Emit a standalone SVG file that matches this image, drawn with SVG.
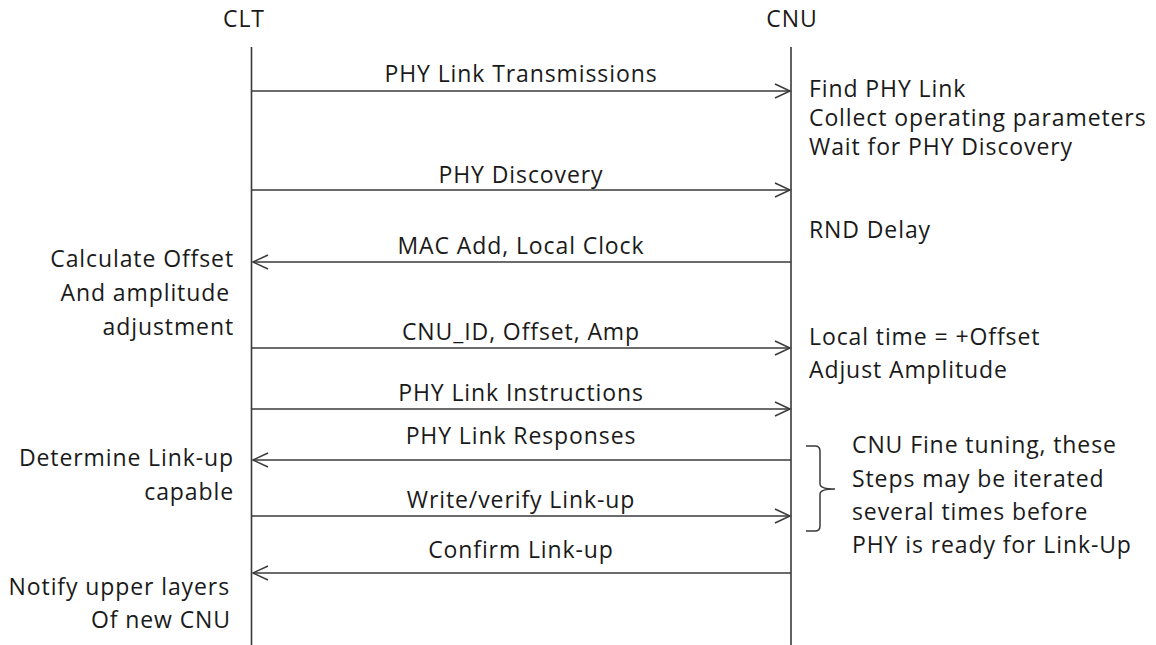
<svg xmlns="http://www.w3.org/2000/svg" width="1156" height="645" viewBox="0 0 1156 645">
  <style>
    text { font-family: "Open Sans", "Noto Sans", "Liberation Sans", sans-serif; font-size: 23px; fill: #1a1a1a; letter-spacing: 0.9px; }
    .mid { text-anchor: middle; }
    .end { text-anchor: end; }
    .life { stroke: #3a3a3a; stroke-width: 1.6; fill: none; }
    .msg { stroke: #3a3a3a; stroke-width: 1.5; fill: none; marker-end: url(#arr); }
    .brace { stroke: #3a3a3a; stroke-width: 1.5; fill: none; }
  </style>
  <defs>
    <marker id="arr" markerUnits="userSpaceOnUse" viewBox="-17 -9 19 18" markerWidth="19" markerHeight="18" refX="0" refY="0" orient="auto">
      <path d="M-15,-7 L0,0 L-15,7" fill="none" stroke="#3a3a3a" stroke-width="1.5"/>
    </marker>
  </defs>
  <rect width="1156" height="645" fill="#ffffff"/>

  <g id="CLT">
    <text class="mid" x="244" y="27">CLT</text>
    <line class="life" x1="251.5" y1="47" x2="251.5" y2="645"/>
  </g>
  <g id="CNU">
    <text class="mid" x="792" y="27">CNU</text>
    <line class="life" x1="791" y1="47" x2="791" y2="645"/>
  </g>

  <g id="connectors">
    <line class="msg" x1="252" y1="91" x2="790" y2="91"/>
    <line class="msg" x1="252" y1="190" x2="790" y2="190"/>
    <line class="msg" x1="791" y1="262" x2="253" y2="262"/>
    <line class="msg" x1="252" y1="348" x2="790" y2="348"/>
    <line class="msg" x1="252" y1="409" x2="790" y2="409"/>
    <line class="msg" x1="791" y1="460" x2="253" y2="460"/>
    <line class="msg" x1="252" y1="516" x2="790" y2="516"/>
    <line class="msg" x1="791" y1="573" x2="253" y2="573"/>
  </g>

  <g id="message-labels">
    <text class="mid" x="521" y="82">PHY Link Transmissions</text>
    <text class="mid" x="521" y="183">PHY Discovery</text>
    <text class="mid" x="521" y="254">MAC Add, Local Clock</text>
    <text class="mid" x="521" y="340">CNU_ID, Offset, Amp</text>
    <text class="mid" x="521" y="401">PHY Link Instructions</text>
    <text class="mid" x="521" y="444">PHY Link Responses</text>
    <text class="mid" x="521" y="508">Write/verify Link-up</text>
    <text class="mid" x="521" y="558">Confirm Link-up</text>
  </g>

  <g id="clt-notes">
    <text class="end" x="234" y="267">Calculate Offset</text>
    <text class="end" x="230" y="301">And amplitude</text>
    <text class="end" x="234" y="335">adjustment</text>
    <text class="end" x="234" y="466">Determine Link-up</text>
    <text class="end" x="234" y="500">capable</text>
    <text class="end" x="230" y="595">Notify upper layers</text>
    <text class="end" x="231" y="628">Of new CNU</text>
  </g>

  <g id="cnu-notes">
    <text x="809" y="97">Find PHY Link</text>
    <text x="809" y="126">Collect operating parameters</text>
    <text x="809" y="155">Wait for PHY Discovery</text>
    <text x="809" y="238">RND Delay</text>
    <text x="809" y="345">Local time = +Offset</text>
    <text x="809" y="378">Adjust Amplitude</text>
  </g>

  <g id="fine-tuning">
    <path class="brace" d="M806,446 L815,446 Q820,446 820,451 L820,484 Q820,489 835,489 Q820,489 820,494 L820,526 Q820,531 815,531 L806,531"/>
    <text x="852" y="453">CNU Fine tuning, these</text>
    <text x="852" y="487">Steps may be iterated</text>
    <text x="852" y="520">several times before</text>
    <text x="852" y="553">PHY is ready for Link-Up</text>
  </g>
</svg>
